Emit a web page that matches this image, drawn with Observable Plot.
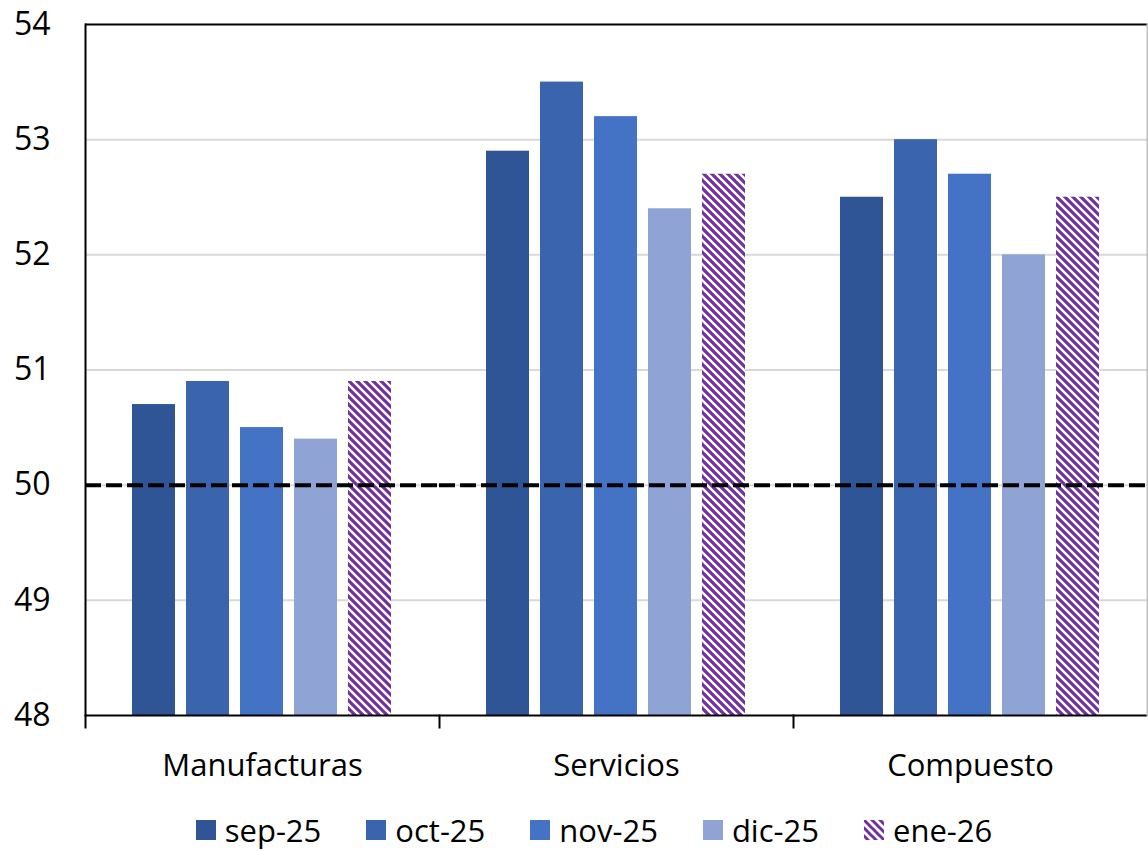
<!DOCTYPE html>
<html>
<head>
<meta charset="utf-8">
<script src="https://cdn.jsdelivr.net/npm/d3@7"></script>
<script src="https://cdn.jsdelivr.net/npm/@observablehq/plot@0.6"></script>
<style>
  html, body { margin: 0; padding: 0; background: #fff; }
  #chart { width: 1148px; height: 790px; }
  #legend { display: flex; justify-content: center; align-items: center; gap: 45px; height: 61px;
    font-family: "Open Sans", "Noto Sans", sans-serif; font-size: 31px; color: #000; padding-left: 40px;
    position: relative; top: 9px; }
  .item { display: flex; align-items: center; gap: 9px; }
  .sw { width: 20px; height: 20px; display: block; }
</style>
</head>
<body>
<div id="chart"></div>
<div id="legend"></div>
<script>
const categories = ["Manufacturas", "Servicios", "Compuesto"];
const series = ["sep-25", "oct-25", "nov-25", "dic-25", "ene-26"];
const sep25 = [50.7, 52.9, 52.5];
const oct25 = [50.9, 53.5, 53.0];
const nov25 = [50.5, 53.2, 52.7];
const dic25 = [50.4, 52.4, 52.0];
const ene26 = [50.9, 52.7, 52.5];
const yTicks = [48, 49, 50, 51, 52, 53, 54];
const threshold = 50;
const colors = ["#2f5597", "#3a64ae", "#4472c4", "#8fa4d5", "url(#hatch)"];
const hatchColor = "#7030a0";

const valuesBySeries = [sep25, oct25, nov25, dic25, ene26];
const data = [];
categories.forEach((c, ci) => series.forEach((s, si) => data.push({category: c, series: s, value: valuesBySeries[si][ci]})));

const yMin = yTicks[0], yMax = yTicks[yTicks.length - 1];
const font = "'Open Sans', 'Noto Sans', sans-serif";

const svg = Plot.plot({
  width: 1148,
  height: 790,
  marginLeft: 84,
  marginRight: 0,
  marginTop: 24,
  marginBottom: 75,
  style: {fontFamily: font, background: "#fff", color: "#000", overflow: "visible"},
  fx: {domain: categories, padding: 0, label: null},
  x: {domain: series, paddingInner: 0.21, paddingOuter: 0.85, axis: null},
  y: {domain: [yMin, yMax], label: null},
  color: {domain: series, range: colors},
  marks: [
    Plot.ruleY(yTicks.slice(1, -1), {stroke: "#d9d9d9", strokeWidth: 2}),
    Plot.barY(data, {fx: "category", x: "series", y1: () => yMin, y2: "value", fill: "series", dx: -1}),
    Plot.ruleY([threshold], {stroke: "#000", strokeWidth: 4, strokeDasharray: "16,5"}),
    Plot.ruleY([yMax], {stroke: "#000", strokeWidth: 2}),
    Plot.ruleY([yMin], {stroke: "#000", strokeWidth: 2}),
    Plot.frame({anchor: "left", stroke: "#000", strokeWidth: 2, fx: [categories[0]]}),
    Plot.frame({anchor: "right", stroke: "#bfbfbf", strokeWidth: 2, fx: [categories[categories.length - 1]]}),
    Plot.frame({anchor: "left", stroke: "#000", strokeWidth: 2, insetTop: 679, dy: 12}),
    Plot.axisY(yTicks, {tickSize: 0, tickPadding: 35, fontSize: 32, anchor: "left", tickFormat: d => String(d)}),
    Plot.axisFx({anchor: "bottom", tickSize: 0, tickPadding: 38, fontSize: 31, label: null})
  ]
});

// hatch pattern
const ns = "http://www.w3.org/2000/svg";
const defs = document.createElementNS(ns, "defs");
defs.innerHTML = `<pattern id="hatch" patternUnits="userSpaceOnUse" width="8" height="8">
  <rect width="8" height="8" fill="#fff"></rect>
  <path d="M-2,-2 L10,10 M-2,6 L2,10 M6,-2 L10,2" stroke="${hatchColor}" stroke-width="3.2"></path>
</pattern>`;
svg.insertBefore(defs, svg.firstChild);
document.getElementById("chart").appendChild(svg);

// legend
const legend = document.getElementById("legend");
series.forEach((s, i) => {
  const item = document.createElement("div");
  item.className = "item";
  const fill = colors[i];
  item.innerHTML = `<svg class="sw" width="20" height="20">${fill.startsWith("url") ? `<defs><pattern id="hatchL" patternUnits="userSpaceOnUse" width="8" height="8"><path d="M-2,-2 L10,10 M-2,6 L2,10 M6,-2 L10,2" stroke="${hatchColor}" stroke-width="3"></path></pattern></defs><rect width="20" height="20" fill="url(#hatchL)"></rect>` : `<rect width="20" height="20" fill="${fill}"></rect>`}</svg><span>${s}</span>`;
  legend.appendChild(item);
});
</script>
</body>
</html>
